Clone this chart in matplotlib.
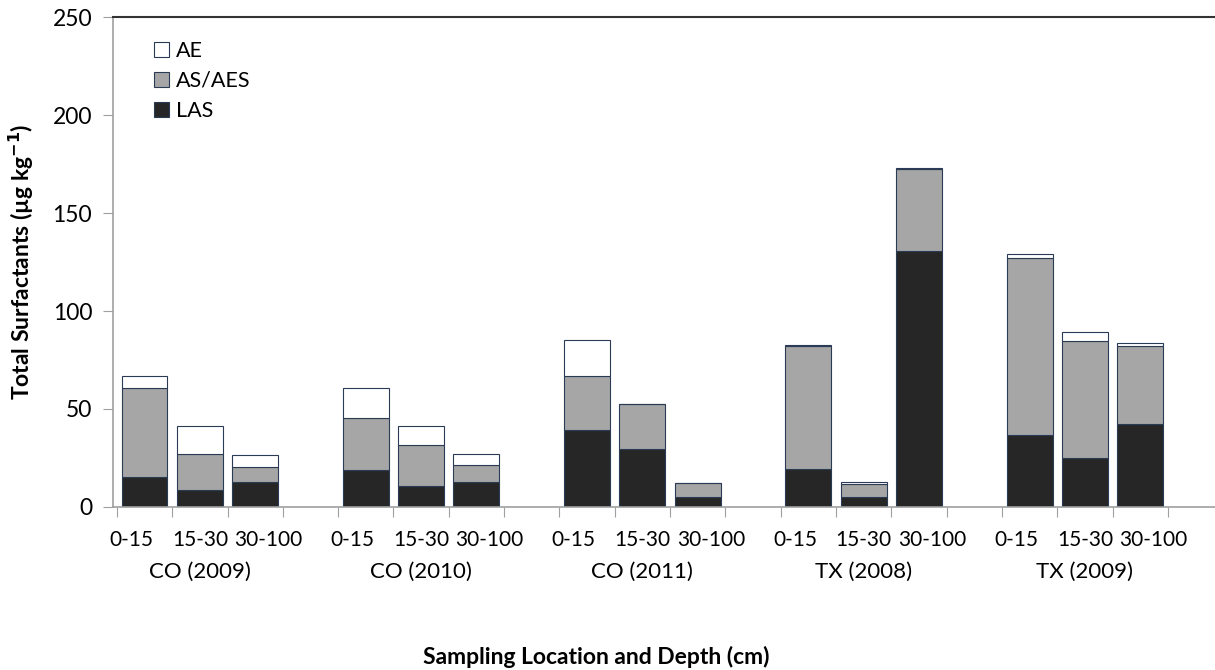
import numpy as np
import matplotlib
matplotlib.use('Agg')
from matplotlib import pyplot as plt
from matplotlib.transforms import blended_transform_factory

plt.rcParams['font.family'] = ['Lato', 'DejaVu Sans']

# surfactant concentrations (ug/kg) per site and depth
groups = ['CO (2009)', 'CO (2010)', 'CO (2011)', 'TX (2008)', 'TX (2009)']
depths = ['0-15', '15-30', '30-100']
las = [15.5, 8.8, 12.8, 18.7, 10.9, 12.6, 39.1, 29.6, 5.1, 19.6, 5.1, 130.8, 36.9, 25.2, 42.5]
as_aes = [45.4, 18.4, 7.8, 26.7, 20.7, 8.8, 27.7, 23.1, 7.3, 62.4, 6.6, 41.5, 90.1, 59.3, 39.6]
ae = [5.8, 14.3, 5.8, 15.3, 9.7, 5.6, 18.2, 0.0, 0.0, 0.8, 0.9, 0.9, 2.3, 4.6, 1.4]

las = np.array(las)
as_aes = np.array(as_aes)
ae = np.array(ae)

# 3 bars per group, one empty slot between groups
x = np.array([4 * g + i for g in range(len(groups)) for i in range(len(depths))])
w = 0.83
edge = '#2B3A55'

fig = plt.figure(figsize=(12.15, 6.70), dpi=100)
ax = fig.add_axes([0.093, 0.2433, 0.907, 0.7313])

b1 = ax.bar(x, las, w, color='#262626', edgecolor=edge, linewidth=0.8, label='LAS')
b2 = ax.bar(x, as_aes, w, bottom=las, color='#A6A6A6', edgecolor=edge, linewidth=0.8, label='AS/AES')
b3 = ax.bar(x, ae, w, bottom=las + as_aes, color='white', edgecolor=edge, linewidth=0.8, label='AE')

ax.set_ylim(0, 250)
ax.set_xlim(-0.57, 19.35)
ax.set_yticks(np.arange(0, 251, 50))
ax.tick_params(axis='y', length=7, color='#A0A0A0', labelsize=16.5, pad=8)
ax.set_xticks(np.arange(-0.5, 19, 1.0))
ax.tick_params(axis='x', length=7, color='#A0A0A0', labelbottom=False)

for s in ['left', 'bottom']:
    ax.spines[s].set_color('#A0A0A0')
    ax.spines[s].set_linewidth(1.2)
ax.spines['top'].set_color('#333333')
ax.spines['top'].set_linewidth(1.5)
ax.spines['right'].set_visible(False)

# depth labels spread a little so the long ones don't touch
shift = [-0.24, 0.0, 0.24]
trans = blended_transform_factory(ax.transData, ax.transAxes)
for g, name in enumerate(groups):
    for i, d in enumerate(depths):
        ax.text(4 * g + i + shift[i], -0.068, d, transform=trans, ha='center', va='center', fontsize=15)
    ax.text(4 * g + 1, -0.132, name, transform=trans, ha='center', va='center', fontsize=16)

ax.set_ylabel(r'Total Surfactants (µg kg$^{\mathbf{-1}}$)', fontsize=16.5, fontweight='bold', labelpad=12)
fig.text(0.491, 0.02, 'Sampling Location and Depth (cm)', ha='center', va='center',
         fontsize=16.5, fontweight='bold')

ax.legend([b3, b2, b1], ['AE', 'AS/AES', 'LAS'], loc='upper left', bbox_to_anchor=(0.02, 0.99),
          frameon=False, fontsize=15.5, handlelength=0.7, handleheight=0.7, handletextpad=0.3,
          labelspacing=0.45)

plt.savefig('out.png', dpi=100)
